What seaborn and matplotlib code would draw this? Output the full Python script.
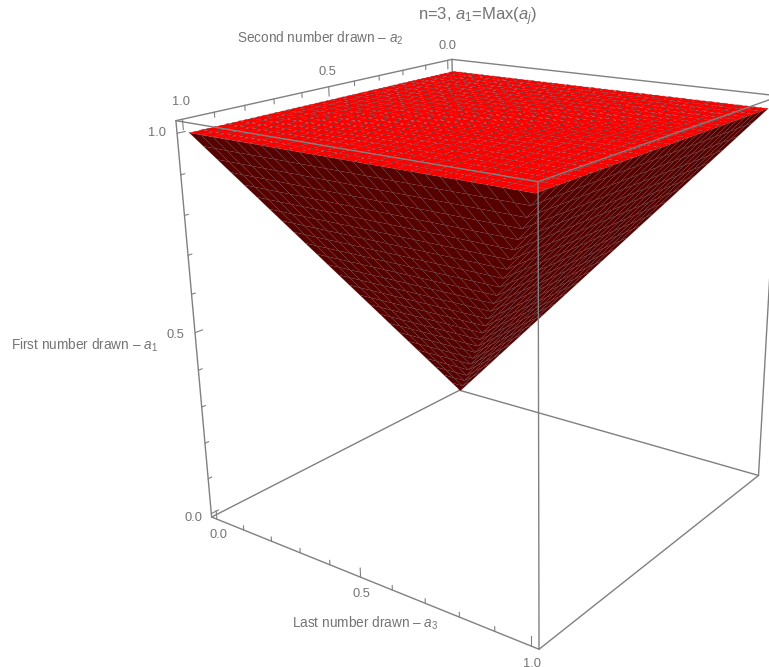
from itertools import product

import matplotlib
matplotlib.use("Agg")
import matplotlib.pyplot as plt
import numpy as np
import seaborn as sns
from matplotlib.text import Text

# mesh positions on the a2 and a3 axes
a2_grid = [0.0, 0.04, 0.08, 0.12, 0.16, 0.2, 0.24, 0.28, 0.32, 0.36, 0.4, 0.44, 0.48,
           0.52, 0.56, 0.6, 0.64, 0.68, 0.72, 0.76, 0.8, 0.84, 0.88, 0.92, 0.96, 1.0]
a3_grid = a2_grid

major_ticks = [0.0, 0.5, 1.0]
minor_ticks = [0.1, 0.2, 0.3, 0.4, 0.6, 0.7, 0.8, 0.9]
tick_labels = ["0.0", "0.5", "1.0"]

title = r"n=3, $a_1$=Max($a_j$)"
a1_label = r"First number drawn – $a_1$"
a2_label = r"Second number drawn – $a_2$"
a3_label = r"Last number drawn – $a_3$"

WIDTH, HEIGHT = 769, 667
EDGE = "#808080"
TEXT = "#747474"

# plot range with padding, like the box in the picture
a2_lim = a3_lim = (-0.02, 1.02)
a1_lim = (-0.01, 1.03)

sns.set_theme(style="white")
plt.rcParams["font.family"] = ["Liberation Sans", "DejaVu Sans"]
plt.rcParams["mathtext.fontset"] = "custom"
plt.rcParams["mathtext.rm"] = "Liberation Sans"
plt.rcParams["mathtext.it"] = "Liberation Sans:italic"

fig = plt.figure(figsize=(WIDTH / 100, HEIGHT / 100), dpi=100)
ax = fig.add_subplot(projection="3d", computed_zorder=False)
ax.view_init(elev=19.514, azim=37.381, roll=0.834)
ax.set_proj_type("persp", focal_length=0.373)
ax.set_box_aspect((1, 1, 1.002))
ax.set_axis_off()

# camera fit: pixels per view unit and where the box centre lands
scale, centre_x, centre_y = 3724.9, 489.17, 311.43
x0, x1 = ax.viewLim.intervalx
y0, y1 = ax.viewLim.intervaly
ax.set_position([
    (centre_x + scale * x0) / WIDTH,
    (HEIGHT - centre_y + scale * y0) / HEIGHT,
    scale * (x1 - x0) / WIDTH,
    scale * (y1 - y0) / HEIGHT,
])

a2_mesh, a3_mesh = np.meshgrid(a2_grid, a3_grid, indexing="ij")
lower_a1 = np.maximum(a2_mesh, a3_mesh)
upper_a1 = np.ones_like(a2_mesh)

ax.plot_surface(a2_mesh, a3_mesh, lower_a1, rstride=1, cstride=1, color="#560000",
                shade=False, edgecolor=(0.35, 0.3, 0.3, 0.3), linewidth=0.35, zorder=2, clip_on=False)
ax.plot_surface(a2_mesh, a3_mesh, upper_a1, rstride=1, cstride=1, color="#ff0000",
                shade=False, edgecolor=(0.3, 0.25, 0.25, 0.6), linewidth=0.6,
                linestyle=(0, (3, 4)), zorder=3, clip_on=False)

ax.set_xlim(*a2_lim)
ax.set_ylim(*a3_lim)
ax.set_zlim(*a1_lim)
for axis in (ax.xaxis, ax.yaxis, ax.zaxis):
    axis.set_ticks([])
    axis.set_visible(False)

# 12 box edges, the three at the nearest corner go over the surface
near = (a2_lim[1], a3_lim[1], a1_lim[1])
box_corners = list(product(a2_lim, a3_lim, a1_lim))
for p, q in product(box_corners, box_corners):
    if p < q and sum(u != v for u, v in zip(p, q)) == 1:
        front = q == near
        ax.plot(*zip(p, q), color=EDGE, lw=1.0, zorder=4 if front else 1, clip_on=False)

lo2, hi2 = a2_lim
lo3 = a3_lim[0]
lo1, hi1 = a1_lim


def draw_ticks(ticks, size):
    for t in ticks:
        # a1 axis, ticks towards smaller a2
        ax.plot([hi2, hi2 - size], [lo3, lo3], [t, t], color=EDGE, lw=0.8, zorder=1, clip_on=False)
        # a2 axis, ticks going down
        ax.plot([t, t], [lo3, lo3], [hi1, hi1 - size], color=EDGE, lw=0.8, zorder=1, clip_on=False)
        # a3 axis, ticks going up
        ax.plot([hi2, hi2], [t, t], [lo1, lo1 + size], color=EDGE, lw=0.8, zorder=1, clip_on=False)


draw_ticks(major_ticks, 0.025)
draw_ticks(minor_ticks, 0.0125)

for t, label in zip(major_ticks, tick_labels):
    ax.text(hi2 + 0.06, lo3, t + 0.012, label, color=TEXT, fontsize=9.3, ha="center", va="center")
    ax.text(t, lo3, hi1 + 0.04, label, color=TEXT, fontsize=9.3, ha="center", va="center")
    ax.text(hi2, t, lo1 - 0.045, label, color=TEXT, fontsize=9.3, ha="center", va="center")

fig.text(477.5 / WIDTH, 1 - 17 / HEIGHT, title, color=TEXT, fontsize=12, ha="center", va="center")
fig.text(84 / WIDTH, 1 - 345 / HEIGHT, a1_label, color=TEXT, fontsize=9.8, ha="center", va="center")
fig.text(320.5 / WIDTH, 1 - 38 / HEIGHT, a2_label, color=TEXT, fontsize=9.8, ha="center", va="center")
fig.text(365 / WIDTH, 1 - 623 / HEIGHT, a3_label, color=TEXT, fontsize=9.8, ha="center", va="center")

# empty placeholder texts of the hidden axes sit past the figure edge
for text in fig.findobj(Text):
    if not text.get_text():
        text.set_visible(False)
        text.set_clip_on(False)
        text.set_position((0.5, 0.5))
        text.set_transform(fig.transFigure)

fig.savefig("out.png", dpi=100)
plt.close(fig)
